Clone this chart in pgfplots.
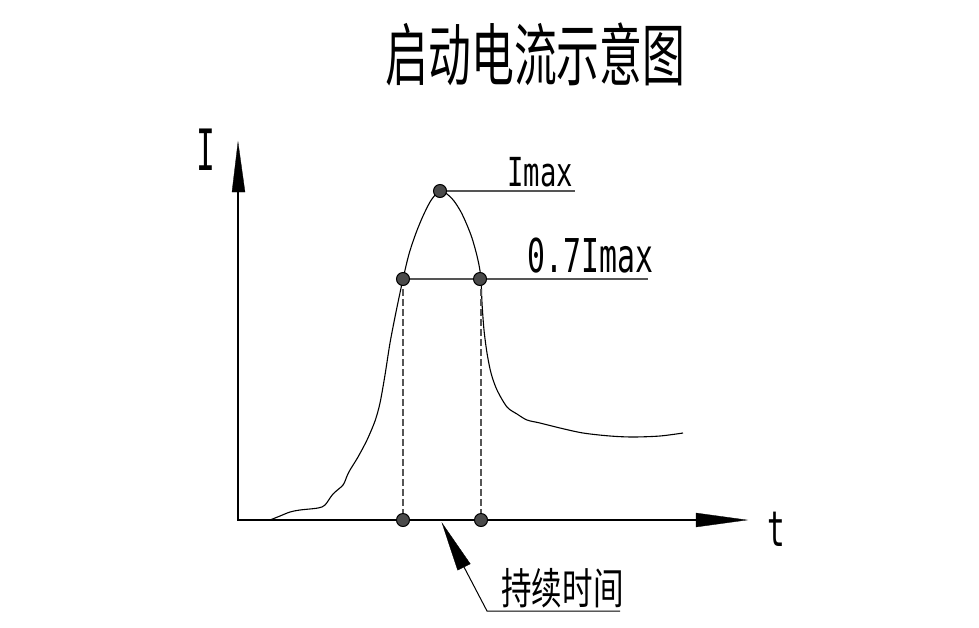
\documentclass[border=0pt]{standalone}
\usepackage{fontspec}
\usepackage{pgfplots}
\pgfplotsset{compat=1.18}
\newfontfamily\cjk{Noto Sans CJK SC}
\newfontfamily\lat{DejaVu Sans Mono}
\definecolor{dotfill}{HTML}{4A4A4A}
\definecolor{lead}{HTML}{555555}
\begin{document}
\begin{tikzpicture}
\begin{axis}[scale only axis, width=979pt, height=627pt,
  xmin=0, xmax=979, ymin=0, ymax=627, y dir=reverse,
  hide axis, clip=false]
% frame for bounding box
\addplot[draw=none, forget plot] coordinates {(0,0) (979,627)};
% axes
\addplot[black, line width=1.4pt] coordinates {(238,192) (238,520) (696,520)};
\addplot[black, fill=black, line width=0.3pt] coordinates {(232,192) (238,142) (245,192)} -- cycle;
\addplot[black, fill=black, line width=0.3pt] coordinates {(696,513) (747,520) (696,527)} -- cycle;
% current curve
\addplot[black, line width=1.1pt, smooth, tension=0.5] coordinates {
(270,520) (280,516) (290,512) (300,510) (318,508) (325,505) (333,494) (343,485)
(347,476) (350,470) (358,457) (367,440) (375,421) (380,403) (385,375) (390,343)
(396,312) (403,279) (409,254) (416,233) (423,216) (430,202) (436,194)
(441,191) (447,194) (454,201) (461,212) (467,225) (472,238)
(476,252) (479,265) (481,279) (482,303) (484,330) (487,353) (491,373) (497,390)
(507,407) (517,414) (527,420) (540,423) (560,428) (583,433) (610,436) (633,437)
(660,436) (683,433)};
% leader lines
\addplot[lead, line width=1.1pt] coordinates {(440,191) (575,191)};
\addplot[lead, line width=1.1pt] coordinates {(403,279) (648,279)};
% dashed verticals
\addplot[lead, line width=1.2pt, dash pattern=on 7pt off 3pt] coordinates {(403,279) (403,520)};
\addplot[lead, line width=1.2pt, dash pattern=on 7pt off 3pt] coordinates {(481,279) (481,520)};
% dots
\addplot[only marks, mark=*, mark size=6.5pt, mark options={fill=dotfill, draw=black, line width=1pt}]
  coordinates {(440,191) (403,279) (480,279) (403,520) (481,520)};
% duration leader arrow
\addplot[black, fill=black, line width=0.3pt] coordinates {(442,523) (470.3,563.9) (457.7,570.2)} -- cycle;
\addplot[black, line width=1pt] coordinates {(464,567) (487,611) (620,611)};
% texts
\node[xscale=0.63, font=\cjk\fontsize{68}{68}\selectfont, inner sep=0pt] at (axis cs:535.5,54) {启动电流示意图};
\node[xscale=0.71, font=\cjk\fontsize{43}{43}\selectfont, inner sep=0pt] at (axis cs:562.5,588) {持续时间};
\node[xscale=0.55, font=\lat\fontsize{57}{57}\selectfont, inner sep=0pt] at (axis cs:206,150) {I};
\node[xscale=0.6, font=\lat\fontsize{49}{49}\selectfont, inner sep=0pt] at (axis cs:776,529) {t};
\node[xscale=0.68, font=\lat\fontsize{40}{40}\selectfont, inner sep=0pt, anchor=base] at (axis cs:540,186) {Imax};
\node[xscale=0.64, font=\lat\fontsize{46.6}{46.6}\selectfont, inner sep=0pt, anchor=base] at (axis cs:590.5,272) {0.7Imax};
\end{axis}
\end{tikzpicture}
\end{document}
